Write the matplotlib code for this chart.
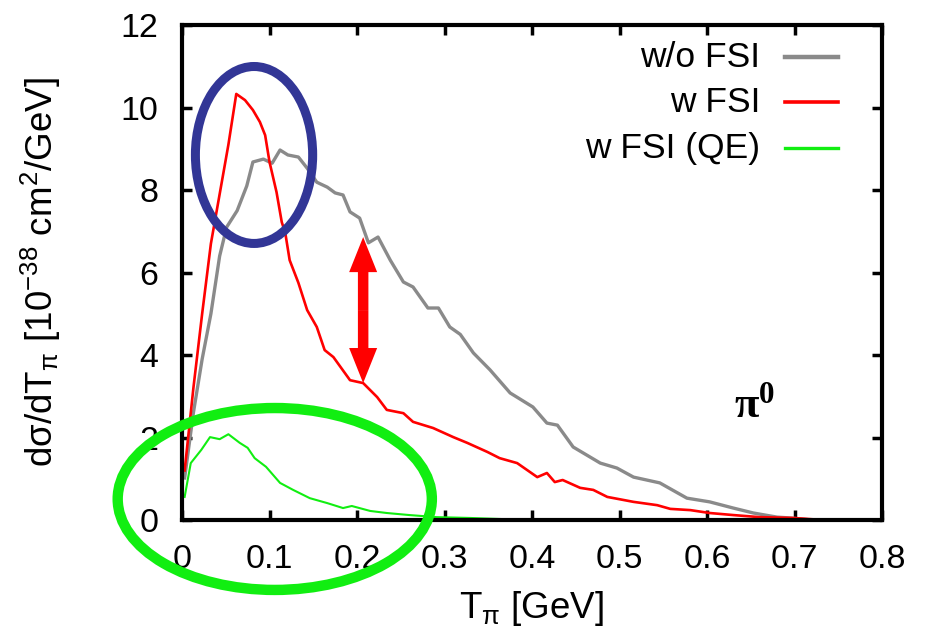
import numpy as np
import matplotlib
matplotlib.use('Agg')
import matplotlib.pyplot as plt
from matplotlib.patches import Ellipse, FancyArrow

plt.rcParams['font.family'] = ['Liberation Sans', 'DejaVu Sans']
plt.rcParams['mathtext.default'] = 'regular'

# pion kinetic energy spectra
x_nofsi = [0.003, 0.013, 0.023, 0.033, 0.043, 0.051, 0.063, 0.074, 0.081, 0.093,
           0.103, 0.112, 0.121, 0.133, 0.143, 0.154, 0.166, 0.175, 0.184, 0.192,
           0.203, 0.213, 0.224, 0.238, 0.253, 0.264, 0.281, 0.293, 0.306, 0.318,
           0.333, 0.352, 0.375, 0.401, 0.417, 0.429, 0.447, 0.478, 0.497, 0.516,
           0.546, 0.577, 0.603, 0.630, 0.653, 0.680, 0.695, 0.720]
y_nofsi = [1.02, 2.60, 3.90, 5.00, 6.40, 7.10, 7.50, 8.10, 8.68, 8.75,
           8.65, 8.97, 8.85, 8.80, 8.53, 8.19, 8.07, 7.93, 7.88, 7.47,
           7.32, 6.72, 6.86, 6.30, 5.77, 5.65, 5.14, 5.14, 4.68, 4.50,
           4.05, 3.64, 3.08, 2.74, 2.35, 2.30, 1.77, 1.38, 1.26, 1.04,
           0.90, 0.53, 0.44, 0.29, 0.17, 0.07, 0.05, 0.00]

x_fsi = [0.003, 0.013, 0.023, 0.033, 0.043, 0.053, 0.062, 0.072, 0.081, 0.089,
         0.095, 0.100, 0.108, 0.114, 0.118, 0.123, 0.133, 0.143, 0.154, 0.163,
         0.173, 0.192, 0.207, 0.223, 0.234, 0.253, 0.264, 0.287, 0.310, 0.326,
         0.349, 0.363, 0.383, 0.406, 0.417, 0.426, 0.435, 0.455, 0.470, 0.486,
         0.516, 0.543, 0.558, 0.581, 0.603, 0.630, 0.660, 0.698, 0.733]
y_fsi = [1.20, 3.20, 5.00, 6.70, 7.90, 9.10, 10.33, 10.18, 9.94, 9.65,
         9.33, 8.68, 7.95, 7.22, 6.96, 6.30, 5.75, 5.09, 4.68, 4.12,
         3.95, 3.39, 3.32, 2.98, 2.67, 2.59, 2.38, 2.23, 2.01, 1.87,
         1.65, 1.50, 1.38, 1.04, 1.14, 0.92, 0.97, 0.78, 0.73, 0.56,
         0.44, 0.36, 0.27, 0.24, 0.17, 0.12, 0.07, 0.05, 0.00]

x_qe = [0.003, 0.010, 0.022, 0.032, 0.043, 0.053, 0.066, 0.075, 0.083, 0.096,
        0.112, 0.127, 0.146, 0.166, 0.184, 0.194, 0.215, 0.234, 0.260, 0.291,
        0.329, 0.370, 0.420, 0.470]
y_qe = [0.56, 1.38, 1.70, 2.01, 1.96, 2.08, 1.87, 1.75, 1.50, 1.29,
        0.90, 0.73, 0.53, 0.41, 0.29, 0.34, 0.22, 0.17, 0.12, 0.07,
        0.05, 0.02, 0.01, 0.00]

labels = ['w/o FSI', 'w FSI', 'w FSI (QE)']
colors = ['#8a8a8a', '#ff0000', '#11ee11']

# reduction from FSI marked at this energy
arrow_x = 0.207
arrow_lo, arrow_hi = 3.32, 6.86

fig = plt.figure(figsize=(9.32, 6.39), dpi=100)
ax = fig.add_axes([0.1953, 0.1862, 0.7511, 0.7746])

ax.plot(x_nofsi, y_nofsi, color=colors[0], lw=2.4)
ax.plot(x_fsi, y_fsi, color=colors[1], lw=1.9)
ax.plot(x_qe, y_qe, color=colors[2], lw=1.5)

ax.set_xlim(0, 0.8)
ax.set_ylim(0, 12)
ax.set_xticks(np.arange(0, 0.81, 0.1))
ax.set_xticklabels(['0', '0.1', '0.2', '0.3', '0.4', '0.5', '0.6', '0.7', '0.8'])
ax.set_yticks(np.arange(0, 13, 2))
ax.tick_params(direction='in', top=True, right=True, length=7, width=2.5,
               labelsize=24.5, pad=17)
for s in ax.spines.values():
    s.set_linewidth(3)

ax.set_xlabel(r'T$_π$ [GeV]', fontsize=26.5)
ax.set_ylabel(r'dσ/dT$_π$ [10$^{-38}$ cm$^2$/GeV]', fontsize=26.5)
ax.xaxis.set_label_coords(0.5, -0.14)
ax.yaxis.set_label_coords(-0.17, 0.5)

# legend: right-aligned text, sample line on the right
rows = [0.935, 0.844, 0.751]
for lab, c, yy, lw in zip(labels, colors, rows, [3.2, 2.6, 2.4]):
    ax.text(0.826, yy, lab, transform=ax.transAxes, ha='right', va='center',
            fontsize=25.5)
    ax.plot([0.861, 0.937], [yy, yy], transform=ax.transAxes, color=c, lw=lw)

ax.text(0.654, 2.75, r'π$^0$', family='Liberation Serif', weight='bold',
        fontsize=32, ha='center', va='center')

# double-headed arrow between the two curves
mid = 0.5 * (arrow_lo + arrow_hi)
for end in (arrow_lo, arrow_hi):
    ax.add_patch(FancyArrow(arrow_x, mid, 0, end - mid, width=0.012,
                            head_width=0.032, head_length=0.85,
                            length_includes_head=True, color='#ff0000', lw=0,
                            zorder=5))

ax.add_patch(Ellipse((0.0823, 8.85), 0.134, 4.29, fill=False,
                     edgecolor='#323696', lw=6.5, zorder=6, clip_on=False))
ax.add_patch(Ellipse((0.106, 0.51), 0.359, 4.41, fill=False,
                     edgecolor='#11ee11', lw=7.5, zorder=6, clip_on=False))

fig.savefig('out.png', dpi=100)
